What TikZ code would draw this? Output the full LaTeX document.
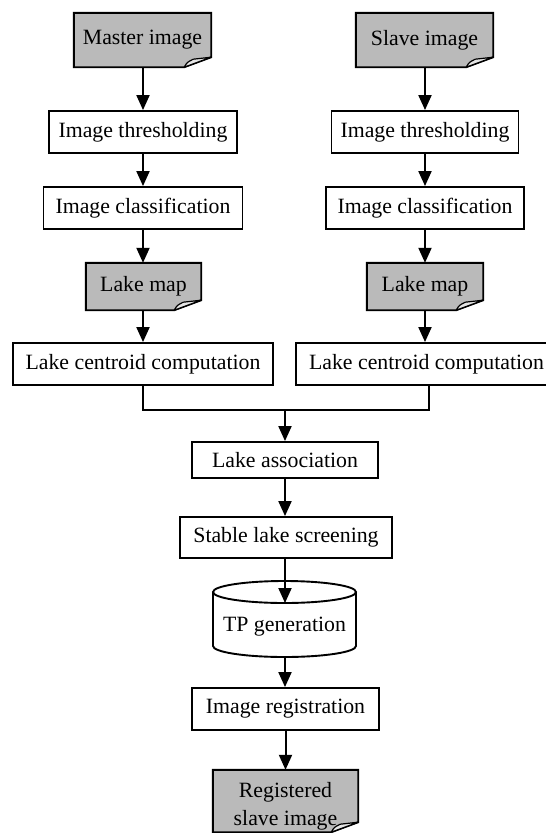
\documentclass[tikz,border=0pt]{standalone}
\usepackage{fontspec}
\setmainfont{Liberation Serif}
\usetikzlibrary{arrows.meta,calc,backgrounds}
\newcommand\mydoc[1]{%
  \begin{scope}[on background layer]
  \draw[docfill] (#1.north west) -- (#1.north east) -- ([yshift=10pt]#1.south east)
     -- ([xshift=-27pt]#1.south east) -- (#1.south west) -- cycle;
  \draw[flapfill] ([xshift=-27pt]#1.south east) .. controls ([xshift=-24pt,yshift=5pt]#1.south east) .. ([xshift=-18pt,yshift=8pt]#1.south east)
     -- ([yshift=10pt]#1.south east) -- cycle;
  \end{scope}}
\begin{document}
\begin{tikzpicture}[x=1pt,y=-1pt,
  every node/.style={font=\fontsize{21.8}{28}\selectfont, inner sep=0pt},
  procbox/.style={draw, line width=1.9pt, fill=white, minimum height=42pt},
  docbox/.style={minimum height=54pt},
  arr/.style={line width=2pt, -{Triangle[length=15pt,width=13pt]}},
  ln/.style={line width=2pt},
  docfill/.style={fill=black!27, draw, line width=1.9pt, line join=miter},
  flapfill/.style={fill=black!10, draw, line width=1.2pt, line join=round}]
\useasboundingbox (0,0) rectangle (546,833);
% top documents
\node[docbox, minimum width=137pt] (master) at (142.5,40) {Master image};
\mydoc{master}
\node[docbox, minimum width=137pt] (slave) at (424.5,40) {Slave image};
\mydoc{slave}
% process boxes
\node[procbox, minimum width=188pt] (thrL) at (143,132) {Image thresholding};
\node[procbox, minimum width=187pt] (thrR) at (425,132) {Image thresholding};
\node[procbox, minimum width=199pt] (clsL) at (143,208) {Image classification};
\node[procbox, minimum width=198pt] (clsR) at (425,208) {Image classification};
% lake maps
\node[docbox, minimum width=115pt, minimum height=47pt] (lakeL) at (143.5,286.5) {Lake map};
\mydoc{lakeL}
\node[docbox, minimum width=116pt, minimum height=47pt] (lakeR) at (425,286.5) {Lake map};
\mydoc{lakeR}
% centroids
\node[procbox, minimum width=260pt] (cenL) at (143,364) {Lake centroid computation};
\node[procbox, minimum width=261pt] (cenR) at (426.5,364) {Lake centroid computation};
% lower chain
\node[procbox, minimum width=186pt, minimum height=36pt] (assoc) at (285,460) {Lake association};
\node[procbox, minimum width=212pt, minimum height=41pt] (stable) at (286,537.5) {Stable lake screening};
% cylinder
\draw[line width=1.9pt, fill=white] (213,592) -- (213,646) arc[start angle=180, end angle=360, x radius=71.5pt, y radius=11pt] -- (356,592);
\draw[line width=1.9pt] (284.5,592) ellipse[x radius=71.5pt, y radius=11pt];
\node (tp) at (284.5,627) {TP generation};
\coordinate (tptop) at (285,603);
\coordinate (tpbot) at (285,657);
\node[procbox, minimum width=187pt] (reg) at (285.5,709) {Image registration};
\node[docbox, minimum width=145pt, minimum height=62pt] (out) at (285.5,801) {};
\mydoc{out}
\node[align=center] (outtxt) at (285.5,806) {Registered\\slave image};
% connectors
\draw[arr] (master.south -| thrL.north) -- (thrL.north);
\draw[arr] (slave.south -| thrR.north) -- (thrR.north);
\draw[arr] (thrL.south) -- (thrL.south |- clsL.north);
\draw[arr] (thrR.south) -- (clsR.north);
\draw[arr] (clsL.south) -- (clsL.south |- lakeL.north);
\draw[arr] (clsR.south) -- (lakeR.north);
\draw[arr] (lakeL.south -| cenL.south) -- (cenL.north);
\draw[arr] (lakeR.south) -- (lakeR.south |- cenR.north);
\coordinate (jL) at (143,410);
\coordinate (jR) at (429,410);
\coordinate (jM) at (285,410);
\draw[ln] (cenL.south) -- (jL) -- (jR) -- (jR |- cenR.south);
\draw[arr] (jM) -- (jM |- assoc.north);
\draw[arr] (assoc.south) -- (assoc.south |- stable.north);
\draw[arr] (stable.south -| tptop) -- (tptop);
\draw[arr] (tpbot) -- (tpbot |- reg.north);
\draw[arr] (reg.south) -- (reg.south |- out.north);
\end{tikzpicture}
\end{document}
